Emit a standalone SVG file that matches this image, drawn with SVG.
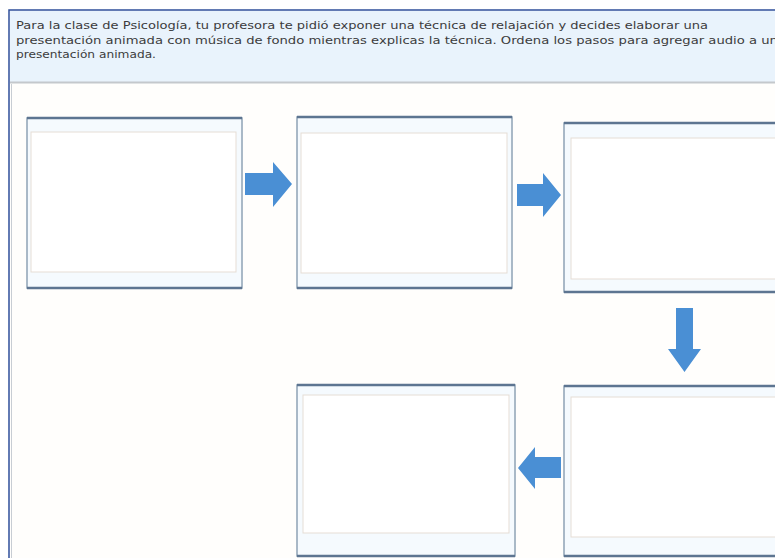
<svg xmlns="http://www.w3.org/2000/svg" width="775" height="558" viewBox="0 0 775 558">
<style>
.hdr{font-family:"DejaVu Sans","Liberation Sans",sans-serif;font-size:11.3px;fill:#3c3c3c}
.outer{fill:#f5fafe;stroke:#8fa3b5;stroke-width:1.5}
.edge{stroke:#5d7591;stroke-width:2.5}
.inner{fill:#ffffff;stroke:#e6ddd5;stroke-width:1}
.arr{fill:#4a8fd4}
</style>
<rect x="0" y="0" width="775" height="558" fill="#ffffff"/>
<rect x="9" y="10" width="780" height="560" fill="#fffefc" stroke="#2f4f9a" stroke-width="1.5"/>
<rect x="10" y="11" width="770" height="71" fill="#e9f3fc"/>
<line x1="10" y1="82.5" x2="775" y2="82.5" stroke="#c4c8cc" stroke-width="2"/>
<line x1="11.5" y1="84" x2="11.5" y2="558" stroke="#c8cdd3" stroke-width="1"/>
<g id="header">
<text class="hdr" x="16" y="29" textLength="692" lengthAdjust="spacingAndGlyphs">Para la clase de Psicología, tu profesora te pidió exponer una técnica de relajación y decides elaborar una</text>
<text class="hdr" x="16" y="44" textLength="770" lengthAdjust="spacingAndGlyphs">presentación animada con música de fondo mientras explicas la técnica. Ordena los pasos para agregar audio a una</text>
<text class="hdr" x="16" y="58" textLength="140" lengthAdjust="spacingAndGlyphs">presentación animada.</text>
</g>
<g id="node1">
<rect class="outer" x="27" y="118" width="215" height="170"/>
<line class="edge" x1="27" y1="118" x2="242" y2="118"/><line class="edge" x1="27" y1="288" x2="242" y2="288"/>
<rect class="inner" x="31" y="132" width="205" height="140"/>
</g>
<g id="node2">
<rect class="outer" x="297" y="117" width="215" height="171"/>
<line class="edge" x1="297" y1="117" x2="512" y2="117"/><line class="edge" x1="297" y1="288" x2="512" y2="288"/>
<rect class="inner" x="301" y="133" width="206" height="140"/>
</g>
<g id="node3">
<rect class="outer" x="564" y="123" width="216" height="169"/>
<line class="edge" x1="564" y1="123" x2="780" y2="123"/><line class="edge" x1="564" y1="292" x2="780" y2="292"/>
<rect class="inner" x="571" y="138" width="206" height="141"/>
</g>
<g id="node4">
<rect class="outer" x="297" y="385" width="218" height="171"/>
<line class="edge" x1="297" y1="385" x2="515" y2="385"/><line class="edge" x1="297" y1="556" x2="515" y2="556"/>
<rect class="inner" x="303" y="395" width="206" height="138"/>
</g>
<g id="node5">
<rect class="outer" x="564" y="386" width="216" height="170"/>
<line class="edge" x1="564" y1="386" x2="780" y2="386"/><line class="edge" x1="564" y1="556" x2="780" y2="556"/>
<rect class="inner" x="571" y="397" width="206" height="140"/>
</g>
<g id="connectors">
<polygon class="arr" points="245,173 273,173 273,162 292,184 273,207 273,195 245,195"/>
<polygon class="arr" points="517,184 543,184 543,173 561,195 543,217 543,206 517,206"/>
<polygon class="arr" points="676,308 693,308 693,349 701,349 684.5,372 668,349 676,349"/>
<polygon class="arr" points="561,457 535,457 535,447 518,468 535,489 535,478 561,478"/>
</g>
</svg>
